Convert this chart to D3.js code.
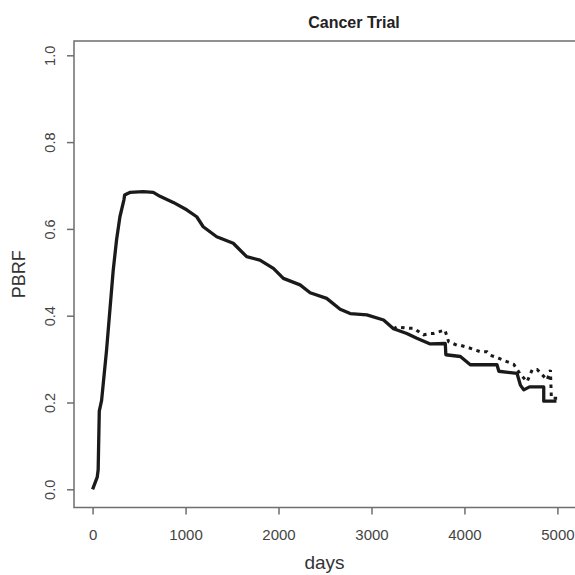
<!DOCTYPE html>
<html>
<head>
<meta charset="utf-8">
<script src="https://cdn.jsdelivr.net/npm/d3@7"></script>
<style>
  body { margin: 0; background: #fff; }
  svg { display: block; }
</style>
</head>
<body>
<svg id="chart" width="575" height="575"></svg>
<script>
// PBRF curves (days, probability)
const solidDays = [0, 50, 60, 72, 97, 150, 186, 222, 258, 294, 337, 345, 400, 545, 653, 725, 868, 1012, 1120, 1190, 1335, 1513, 1657, 1800, 1945, 2052, 2232, 2340, 2518, 2663, 2771, 2950, 3130, 3237, 3380, 3488, 3632, 3794, 3800, 3956, 4063, 4350, 4370, 4566, 4602, 4638, 4700, 4853, 4853, 4990];
const solidPbrf = [0.0, 0.028, 0.045, 0.18, 0.205, 0.32, 0.413, 0.505, 0.575, 0.628, 0.667, 0.678, 0.684, 0.686, 0.684, 0.675, 0.661, 0.644, 0.628, 0.605, 0.582, 0.567, 0.536, 0.528, 0.509, 0.486, 0.471, 0.453, 0.44, 0.415, 0.405, 0.402, 0.39, 0.37, 0.359, 0.348, 0.335, 0.336, 0.31, 0.306, 0.287, 0.287, 0.272, 0.267, 0.24, 0.229, 0.236, 0.236, 0.203, 0.203];

// dotted curve only separates from the solid one after ~3200 days
const dottedDays = [3237, 3273, 3417, 3453, 3560, 3632, 3668, 3758, 3790, 3830, 3920, 3956, 4063, 4171, 4243, 4279, 4368, 4458, 4530, 4602, 4674, 4728, 4782, 4836, 4890, 4925, 4935, 5000];
const dottedPbrf = [0.37, 0.374, 0.371, 0.371, 0.356, 0.359, 0.359, 0.365, 0.367, 0.34, 0.332, 0.332, 0.325, 0.317, 0.317, 0.309, 0.302, 0.294, 0.288, 0.265, 0.248, 0.275, 0.276, 0.264, 0.252, 0.275, 0.21, 0.21];

const xTicks = [0, 1000, 2000, 3000, 4000, 5000];
const yTicks = [0.0, 0.2, 0.4, 0.6, 0.8, 1.0];

const box = { left: 74, right: 576, top: 41, bottom: 507.5 };

const svg = d3.select("#chart");

const xScale = d3.scaleLinear().domain([-200, 5200]).range([box.left, box.right]);
const yScale = d3.scaleLinear().domain([0, 1]).range([489.3, 55.3]);

// plot frame
svg.append("rect")
  .attr("x", box.left)
  .attr("y", box.top)
  .attr("width", box.right - box.left)
  .attr("height", box.bottom - box.top)
  .attr("fill", "none")
  .attr("stroke", "#6e6e6e")
  .attr("stroke-width", 1.5);

// x axis
const xAxisGroup = svg.append("g")
  .attr("transform", `translate(0,${box.bottom})`)
  .call(d3.axisBottom(xScale).tickValues(xTicks).tickSize(7).tickPadding(15).tickFormat(d3.format("d")));
xAxisGroup.select(".domain").remove();
xAxisGroup.selectAll("line").attr("stroke", "#6e6e6e").attr("stroke-width", 1.5);
xAxisGroup.selectAll("text")
  .attr("fill", "#444")
  .attr("font-family", "Liberation Sans, Arial, sans-serif")
  .attr("font-size", "15px");

// y axis, labels turned like R's default
const yAxisGroup = svg.append("g")
  .attr("transform", `translate(${box.left},0)`)
  .call(d3.axisLeft(yScale).tickValues(yTicks).tickSize(7).tickFormat(d3.format(".1f")));
yAxisGroup.select(".domain").remove();
yAxisGroup.selectAll("line").attr("stroke", "#6e6e6e").attr("stroke-width", 1.5);
yAxisGroup.selectAll("text")
  .attr("x", 0)
  .attr("y", -19)
  .attr("dy", null)
  .attr("transform", "rotate(-90)")
  .attr("text-anchor", "middle")
  .attr("fill", "#444")
  .attr("font-family", "Liberation Sans, Arial, sans-serif")
  .attr("font-size", "14.5px");

// curves
const line = d3.line()
  .x((d) => xScale(d[0]))
  .y((d) => yScale(d[1]));

svg.append("path")
  .attr("fill", "none")
  .attr("stroke", "#1a1a1a")
  .attr("stroke-width", 3)
  .attr("stroke-dasharray", "3.5,4.5")
  .attr("d", line(d3.zip(dottedDays, dottedPbrf)));

svg.append("path")
  .attr("fill", "none")
  .attr("stroke", "#1a1a1a")
  .attr("stroke-width", 3.3)
  .attr("stroke-linejoin", "round")
  .attr("d", line(d3.zip(solidDays, solidPbrf)));

// titles
svg.append("text")
  .attr("x", 354)
  .attr("y", 28)
  .attr("text-anchor", "middle")
  .attr("font-family", "Liberation Sans, Arial, sans-serif")
  .attr("font-weight", "bold")
  .attr("font-size", "16px")
  .attr("fill", "#222")
  .text("Cancer Trial");

svg.append("text")
  .attr("x", (box.left + 575) / 2)
  .attr("y", 569)
  .attr("text-anchor", "middle")
  .attr("font-family", "Liberation Sans, Arial, sans-serif")
  .attr("font-size", "19px")
  .attr("fill", "#333")
  .text("days");

svg.append("text")
  .attr("transform", `translate(25,${(box.top + box.bottom) / 2}) rotate(-90)`)
  .attr("text-anchor", "middle")
  .attr("font-family", "Liberation Sans, Arial, sans-serif")
  .attr("font-size", "18px")
  .attr("fill", "#333")
  .text("PBRF");
</script>
</body>
</html>
